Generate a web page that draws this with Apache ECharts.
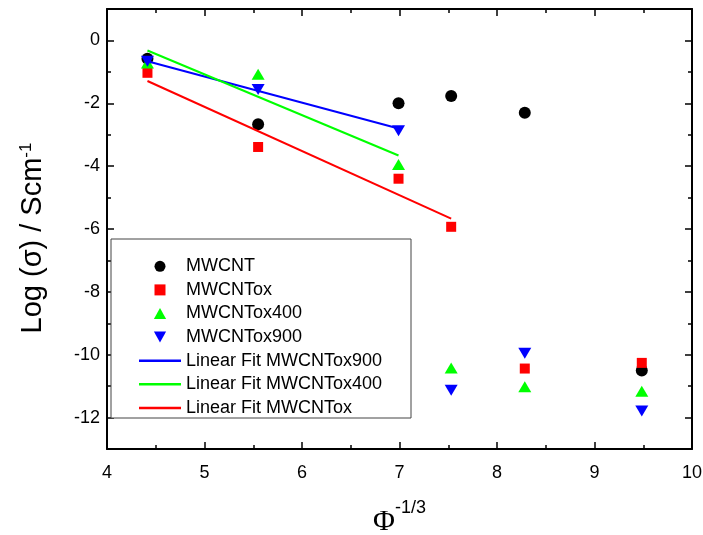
<!DOCTYPE html>
<html>
<head>
<meta charset="utf-8">
<script src="https://cdn.jsdelivr.net/npm/echarts@6/dist/echarts.min.js"></script>
<style>html,body{margin:0;padding:0;background:#fff}#c{width:703px;height:535px}</style>
</head>
<body>
<div id="c"></div>
<script>
// ---- data ----
const phi = [4.415, 5.55, 6.99, 7.53, 8.285, 9.485];
const mwcnt      = [-0.58, -2.67, -2.00, -1.77, -2.30, -10.50];
const mwcntOx    = [-1.03, -3.39, -4.40, -5.93, -10.44, -10.26];
const mwcntOx400 = [-0.72, -1.08, -3.95, -10.42, -11.02, -11.16];
const mwcntOx900 = [-0.66, -1.56, -2.87, -11.13, -9.95, -11.79];
const fitOx900X = [4.415, 6.99];
const fitOx900Y = [-0.66, -2.80];
const fitOx400X = [4.415, 6.99];
const fitOx400Y = [-0.32, -3.66];
const fitOxX = [4.415, 7.53];
const fitOxY = [-1.29, -5.67];
const yMajor = [-12, -10, -8, -6, -4, -2, 0];
const yMinor = [-11, -9, -7, -5, -3, -1];
const seriesNames = ['MWCNT', 'MWCNTox', 'MWCNTox400', 'MWCNTox900',
  'Linear Fit MWCNTox900', 'Linear Fit MWCNTox400', 'Linear Fit MWCNTox'];

const zip = (xs, ys) => xs.map((x, i) => [x, ys[i]]);
const font = 'Liberation Sans, Arial, sans-serif';
const sqr = 'path://M0,0 L10,0 L10,10 L0,10 Z';
const upTri = 'path://M5,0 L10,9 L0,9 Z';
const downTri = 'path://M0,0 L10,0 L5,9 Z';
const lineIcon = 'path://M0,0 L42,0 L42,2.5 L0,2.5 Z';

const chart = echarts.init(document.getElementById('c'));
const yBase = (pos, minor, withName) => ({
  type: 'value', position: pos, min: -13, max: 1, gridIndex: 0,
  axisLine: { show: !minor, onZero: false, lineStyle: { color: '#000', width: 2 } },
  axisTick: { show: true, inside: true, length: minor ? 4 : 7, customValues: minor ? yMinor : yMajor,
    lineStyle: { color: '#000', width: 1.5 } },
  axisLabel: { show: (pos === 'left' && !minor), customValues: yMajor, color: '#000', fontSize: 18, fontFamily: font, margin: 7 },
  splitLine: { show: false },
  name: withName ? 'Log (σ) / Scm{sup|-1}' : '',
  nameLocation: 'middle', nameGap: 60, nameRotate: 90,
  nameTextStyle: { color: '#000', fontSize: 29, fontFamily: font, padding: [0, 18, 0, 0],
    rich: { sup: { fontSize: 17, fontFamily: font, color: '#000', verticalAlign: 'top' } } }
});
chart.setOption({
  animation: false,
  backgroundColor: '#fff',
  grid: { left: 107, right: 11, top: 9, bottom: 86, containLabel: false, outerBoundsMode: 'none' },
  xAxis: [
    { type: 'value', position: 'bottom', min: 4, max: 10, interval: 1,
      axisLine: { onZero: false, lineStyle: { color: '#000', width: 2 } },
      axisTick: { inside: true, length: 7, lineStyle: { color: '#000', width: 1.5 } },
      minorTick: { show: true, splitNumber: 2, length: 4, lineStyle: { color: '#000', width: 1.5 } },
      axisLabel: { color: '#000', fontSize: 18, fontFamily: font, margin: 15 },
      splitLine: { show: false }, minorSplitLine: { show: false },
      name: '{phi|Φ}{sup|-1/3}', nameLocation: 'middle', nameGap: 50,
      nameTextStyle: { rich: {
        phi: { fontSize: 30, fontFamily: 'Liberation Serif, Times New Roman, serif', color: '#000', padding: [8, 0, 0, 0] },
        sup: { fontSize: 18, fontFamily: font, color: '#000', verticalAlign: 'top' } } } },
    { type: 'value', position: 'top', min: 4, max: 10, interval: 1,
      axisLine: { onZero: false, lineStyle: { color: '#000', width: 2 } },
      axisTick: { inside: true, length: 7, lineStyle: { color: '#000', width: 1.5 } },
      minorTick: { show: true, splitNumber: 2, length: 4, lineStyle: { color: '#000', width: 1.5 } },
      axisLabel: { show: false }, splitLine: { show: false } }
  ],
  yAxis: [yBase('left', false, true), yBase('left', true, false), yBase('right', false, false), yBase('right', true, false)],
  graphic: [{ type: 'rect', shape: { x: 111, y: 239, width: 300, height: 179 },
    style: { fill: '#fff', stroke: '#444', lineWidth: 1 }, z: 1 }],
  legend: {
    orient: 'vertical', left: 139, top: 254.5, padding: 0, itemGap: 0,
    itemWidth: 42, itemHeight: 11, selectedMode: false, z: 5, symbolKeepAspect: true,
    textStyle: { fontSize: 18, fontFamily: font, color: '#000', lineHeight: 23.6 },
    data: [
      { name: seriesNames[0], icon: 'circle' },
      { name: seriesNames[1], icon: sqr },
      { name: seriesNames[2], icon: upTri },
      { name: seriesNames[3], icon: downTri },
      { name: seriesNames[4], icon: lineIcon },
      { name: seriesNames[5], icon: lineIcon },
      { name: seriesNames[6], icon: lineIcon }
    ]
  },
  series: [
    { name: seriesNames[4], type: 'line', data: zip(fitOx900X, fitOx900Y), symbol: 'none', showSymbol: false,
      lineStyle: { color: '#0000ff', width: 2 }, itemStyle: { color: '#0000ff' } },
    { name: seriesNames[5], type: 'line', data: zip(fitOx400X, fitOx400Y), symbol: 'none', showSymbol: false,
      lineStyle: { color: '#00ff00', width: 2 }, itemStyle: { color: '#00ff00' } },
    { name: seriesNames[6], type: 'line', data: zip(fitOxX, fitOxY), symbol: 'none', showSymbol: false,
      lineStyle: { color: '#ff0000', width: 2 }, itemStyle: { color: '#ff0000' } },
    { name: seriesNames[0], type: 'scatter', data: zip(phi, mwcnt), symbol: 'circle', symbolSize: 12,
      itemStyle: { color: '#000', opacity: 1 } },
    { name: seriesNames[1], type: 'scatter', data: zip(phi, mwcntOx), symbol: sqr, symbolSize: 10,
      itemStyle: { color: '#ff0000', opacity: 1 } },
    { name: seriesNames[2], type: 'scatter', data: zip(phi, mwcntOx400), symbol: upTri, symbolSize: [13, 11],
      itemStyle: { color: '#00ff00', opacity: 1 } },
    { name: seriesNames[3], type: 'scatter', data: zip(phi, mwcntOx900), symbol: downTri, symbolSize: [13, 11],
      itemStyle: { color: '#0000ff', opacity: 1 } }
  ]
});
</script>
</body>
</html>
